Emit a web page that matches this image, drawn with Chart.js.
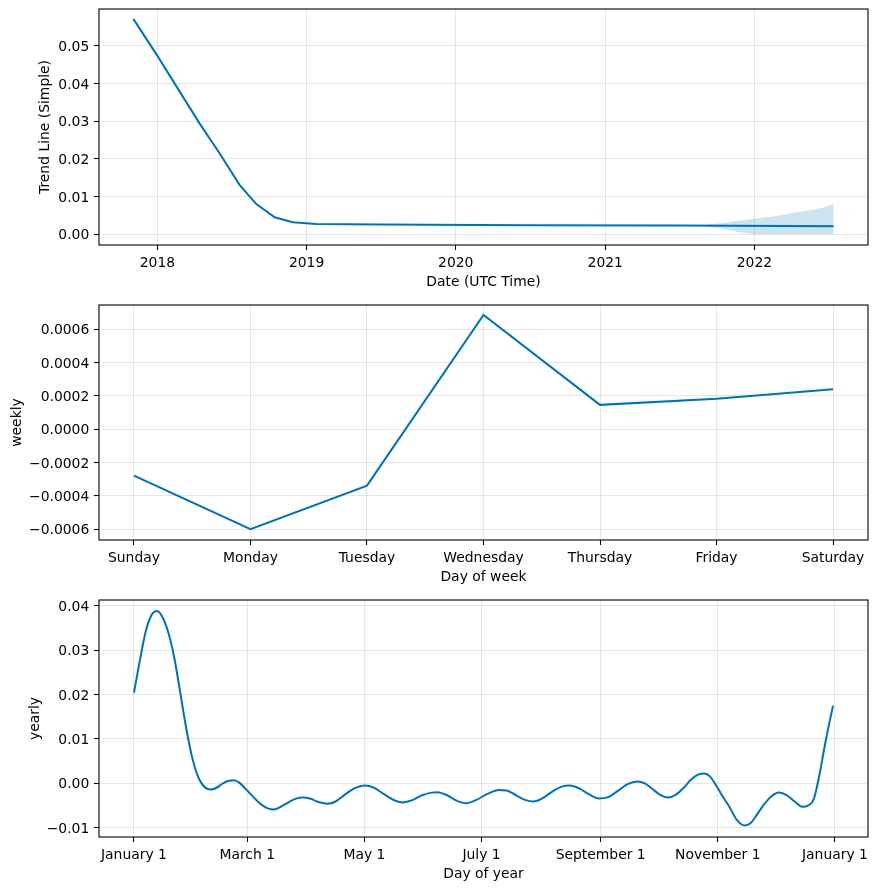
<!DOCTYPE html>
<html>
<head>
<meta charset="utf-8">
<script src="https://cdn.jsdelivr.net/npm/chart.js@4.4.1/dist/chart.umd.min.js"></script>
<style>
  html, body { margin: 0; padding: 0; background: #fff; }
  #wrap { position: relative; width: 878px; height: 889px; }
  canvas { position: absolute; left: 0; }
</style>
</head>
<body>
<div id="wrap">
  <canvas id="trendChart" width="878" height="292" style="top:0"></canvas>
  <canvas id="weeklyChart" width="878" height="292" style="top:295px"></canvas>
  <canvas id="yearlyChart" width="878" height="294" style="top:590px"></canvas>
</div>
<script>
// trend panel
const trendDates = ["2017-11-03", "2018-01-01", "2018-04-14", "2018-06-02", "2018-07-21", "2018-08-31",
  "2018-10-15", "2018-11-28", "2019-01-25", "2019-07-01", "2020-07-01", "2021-07-01", "2022-07-14"];
const trendValues = [0.0571, 0.0473, 0.0294, 0.0215, 0.0131, 0.0080, 0.0045, 0.0032, 0.0027, 0.0026, 0.0024, 0.0023, 0.0021];
const bandDates = ["2021-08-13", "2021-09-10", "2021-10-09", "2021-11-19", "2021-12-30", "2022-02-16",
  "2022-04-06", "2022-05-25", "2022-06-23", "2022-07-14"];
const bandUpper = [0.00225, 0.0025, 0.0029, 0.0035, 0.0041, 0.0047, 0.0057, 0.0066, 0.0072, 0.0081];
const bandLower = [0.00225, 0.0020, 0.0016, 0.0007, 0.0, 0.0, 0.0, 0.0, 0.0, 0.0];
const trendYears = [2018, 2019, 2020, 2021, 2022];
const trendYTicks = [0, 0.01, 0.02, 0.03, 0.04, 0.05];

// weekly panel
const weekDays = ["Sunday", "Monday", "Tuesday", "Wednesday", "Thursday", "Friday", "Saturday"];
const weeklyValues = [-0.000279, -0.000601, -0.000339, 0.000686, 0.000146, 0.000182, 0.000240];
const weeklyYTicks = [-0.0006, -0.0004, -0.0002, 0, 0.0002, 0.0004, 0.0006];

// yearly panel
const yearlyDays = [0, 3, 6, 9, 12, 15, 18, 21, 24, 27, 30, 33, 36, 40, 43, 46, 49, 52, 55, 58,
  62, 66, 70, 73, 76, 80, 84, 88, 92, 96, 101, 105, 110, 115, 120, 125, 130, 135, 140, 145,
  150, 155, 158, 163, 168, 173, 178, 184, 190, 194, 199, 204, 208, 213, 218, 223, 227, 232, 237, 242,
  247, 252, 257, 262, 266, 270, 274, 278, 282, 286, 290, 294, 297, 300, 303, 306, 310, 314, 318, 321,
  324, 328, 332, 336, 340, 344, 348, 351, 354, 357, 360, 362, 364];
const yearlyValues = [0.0204, 0.0275, 0.0340, 0.0378, 0.0388, 0.0373, 0.0338, 0.0283, 0.0207, 0.0129,
  0.0064, 0.0019, -0.0005, -0.0014, -0.0010, -0.0001, 0.0005, 0.0007, 0.0001, -0.0012,
  -0.0030, -0.0047, -0.0057, -0.0059, -0.0054, -0.0044, -0.0035, -0.0032, -0.0035, -0.0042,
  -0.0046, -0.0041, -0.0025, -0.0011, -0.0005, -0.0010, -0.0024, -0.0037, -0.0043, -0.0038,
  -0.0027, -0.0021, -0.0020, -0.0027, -0.0039, -0.0045, -0.0038, -0.0024, -0.0015, -0.0016,
  -0.0027, -0.0038, -0.0041, -0.0033, -0.0018, -0.0007, -0.0005, -0.0012, -0.0025, -0.0034,
  -0.0031, -0.0017, -0.0002, 0.0004, 0.0000, -0.0013, -0.0026, -0.0032, -0.0026, -0.0011,
  0.0008, 0.0020, 0.0022, 0.0015, -0.0004, -0.0026, -0.0053, -0.0083, -0.0095, -0.0090,
  -0.0073, -0.0048, -0.0029, -0.0021, -0.0027, -0.0041, -0.0053, -0.0050, -0.0035, 0.0021,
  0.0092, 0.0135, 0.0175];
const monthTickDays = [0, 59, 120, 181, 243, 304, 365];
const monthTickLabels = ["January 1", "March 1", "May 1", "July 1", "September 1", "November 1", "January 1"];
const yearlyYTicks = [-0.01, 0, 0.01, 0.02, 0.03, 0.04];

const LINE = "#0072B2";
const FONT = { family: "'DejaVu Sans', sans-serif", size: 13.9 };
const gridStyle = { color: "rgba(128,128,128,0.2)", lineWidth: 1, tickColor: "#000", tickLength: 5, tickWidth: 1.1 };

// matplotlib-like box around the plot area
const frame = {
  id: "frame",
  afterDraw(chart) {
    const { ctx, chartArea: a } = chart;
    ctx.save();
    ctx.strokeStyle = "#000";
    ctx.lineWidth = 1.1;
    ctx.strokeRect(a.left, a.top, a.right - a.left, a.bottom - a.top);
    ctx.restore();
  }
};

function fmt(v, digits) {
  const s = Math.abs(v).toFixed(digits);
  return v < -1e-12 ? "\u2212" + s : s;
}

function makeOptions(o) {
  return {
    responsive: false,
    animation: false,
    devicePixelRatio: 1,
    layout: { padding: { top: o.padTop, right: 10, left: 0, bottom: 0 } },
    plugins: { legend: { display: false }, tooltip: { enabled: false } },
    elements: { point: { radius: 0 } },
    scales: {
      x: {
        type: "linear",
        min: o.xMin,
        max: o.xMax,
        grid: gridStyle,
        border: { display: false },
        ticks: {
          font: FONT, color: "#000", padding: 5.5, autoSkip: false, maxRotation: 0,
          callback: (v, i) => o.xLabels[i]
        },
        afterBuildTicks: (s) => { s.ticks = o.xTicks.map((v) => ({ value: v })); },
        afterFit: (s) => { s.height = 47; s.paddingLeft = 0; s.paddingRight = 0; },
        title: { display: true, text: o.xTitle, font: FONT, color: "#000", padding: { top: 0, bottom: 1.2 } }
      },
      y: {
        min: o.yMin,
        max: o.yMax,
        grid: gridStyle,
        border: { display: false },
        ticks: { font: FONT, color: "#000", padding: 4.7, labelOffset: 1.5, callback: (v) => fmt(v, o.yDigits) },
        afterBuildTicks: (s) => { s.ticks = o.yTicks.map((v) => ({ value: v })); },
        afterFit: (s) => { s.width = 99; s.paddingTop = 0; s.paddingBottom = 0; },
        title: { display: true, text: o.yTitle, font: FONT, color: "#000", padding: { top: o.yTitlePad, bottom: 0 } }
      }
    }
  };
}

const toPoints = (xs, ys) => xs.map((x, i) => ({ x: x, y: ys[i] }));
const ms = (d) => Date.parse(d);

new Chart(document.getElementById("trendChart"), {
  type: "line",
  data: {
    datasets: [
      {
        data: toPoints(bandDates.map(ms), bandUpper),
        fill: "+1",
        backgroundColor: "rgba(0,114,178,0.2)",
        borderColor: "rgba(0,0,0,0)",
        borderWidth: 0
      },
      {
        data: toPoints(bandDates.map(ms), bandLower),
        fill: false,
        borderColor: "rgba(0,0,0,0)",
        borderWidth: 0
      },
      {
        data: toPoints(trendDates.map(ms), trendValues),
        borderColor: LINE,
        borderWidth: 2,
        fill: false,
        tension: 0
      }
    ]
  },
  options: makeOptions({
    padTop: 9,
    xMin: Date.UTC(2017, 7, 11), xMax: Date.UTC(2022, 9, 6),
    xTicks: trendYears.map((y) => Date.UTC(y, 0, 1)),
    xLabels: trendYears.map(String),
    xTitle: "Date (UTC Time)",
    yMin: -0.00284, yMax: 0.05973, yTicks: trendYTicks, yDigits: 2,
    yTitle: "Trend Line (Simple)", yTitlePad: 36.7
  }),
  plugins: [frame]
});

new Chart(document.getElementById("weeklyChart"), {
  type: "line",
  data: {
    datasets: [{
      data: toPoints(weekDays.map((d, i) => i), weeklyValues),
      borderColor: LINE,
      borderWidth: 2,
      fill: false,
      tension: 0
    }]
  },
  options: makeOptions({
    padTop: 10,
    xMin: -0.3, xMax: 6.3,
    xTicks: weekDays.map((d, i) => i),
    xLabels: weekDays,
    xTitle: "Day of week",
    yMin: -0.000666, yMax: 0.000746, yTicks: weeklyYTicks, yDigits: 4,
    yTitle: "weekly", yTitlePad: 9.2
  }),
  plugins: [frame]
});

new Chart(document.getElementById("yearlyChart"), {
  type: "line",
  data: {
    datasets: [{
      data: toPoints(yearlyDays, yearlyValues),
      borderColor: LINE,
      borderWidth: 2,
      fill: false,
      cubicInterpolationMode: "monotone"
    }]
  },
  options: makeOptions({
    padTop: 10,
    xMin: -18.2, xMax: 382.2,
    xTicks: monthTickDays,
    xLabels: monthTickLabels,
    xTitle: "Day of year",
    yMin: -0.0121, yMax: 0.0413, yTicks: yearlyYTicks, yDigits: 2,
    yTitle: "yearly", yTitlePad: 26.7
  }),
  plugins: [frame]
});
</script>
</body>
</html>
